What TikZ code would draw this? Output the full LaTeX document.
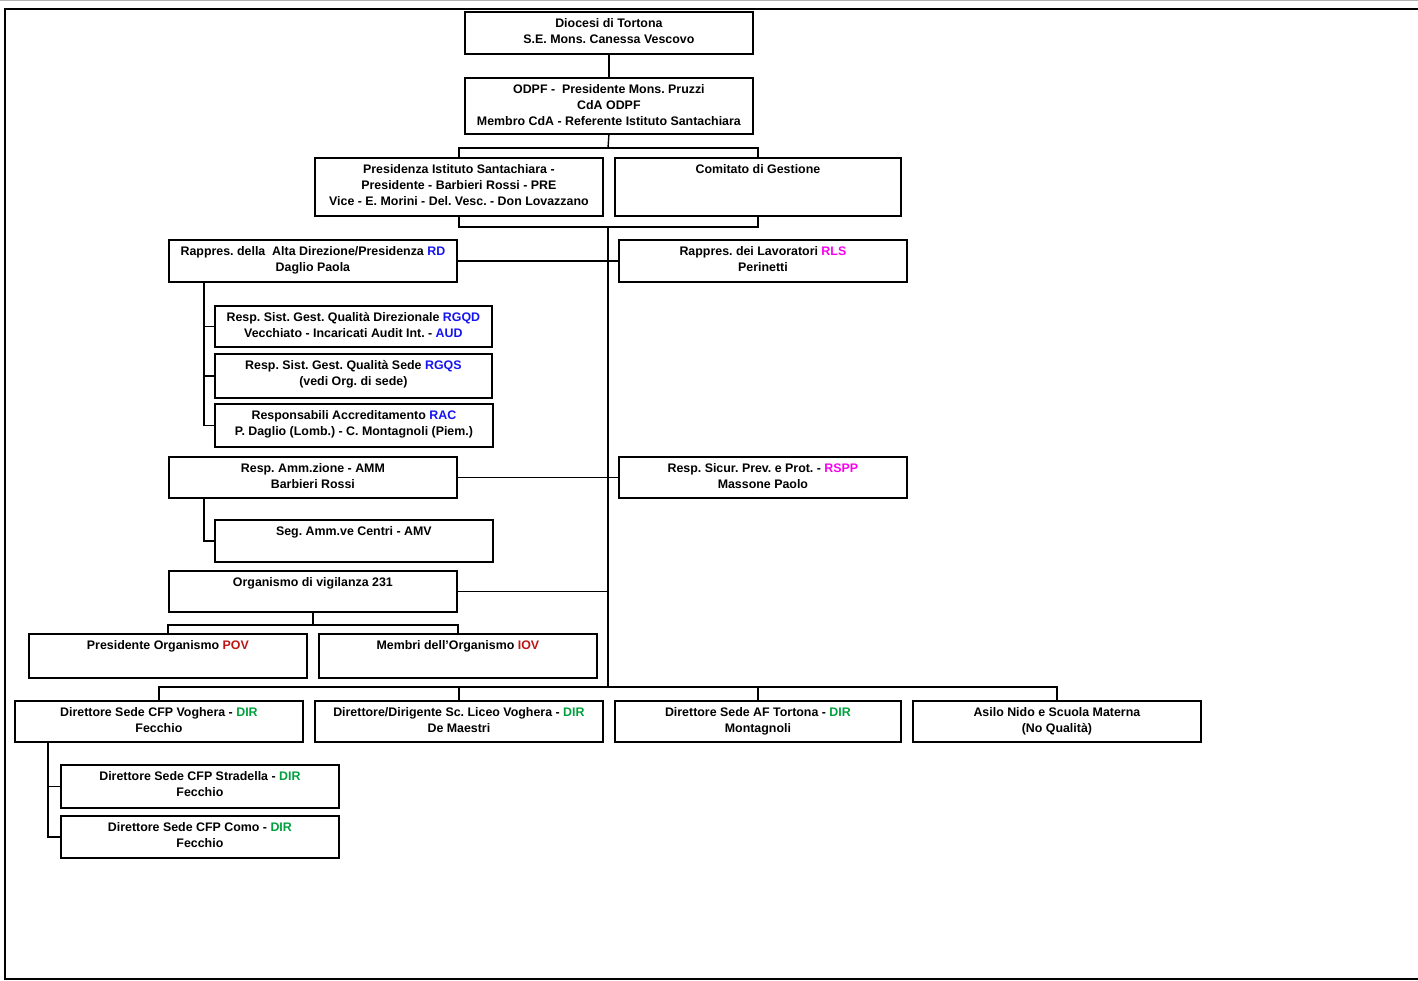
\documentclass[tikz,border=0pt]{standalone}
\usepackage{fontspec}
\setmainfont{Liberation Sans}
\frenchspacing
\definecolor{rdblue}{RGB}{20,20,240}
\definecolor{rlsmag}{RGB}{250,0,240}
\definecolor{povred}{RGB}{190,20,20}
\definecolor{dirgreen}{RGB}{0,160,60}
\tikzset{
  box/.style={draw, line width=1.8pt, anchor=north west, inner sep=0pt,
    minimum width=288, minimum height=42},
  boxtext/.style={anchor=north, align=center, inner sep=0pt, yshift=-7pt,
    font=\fontsize{12.4}{16}\selectfont\bfseries},
  link/.style={line width=1.4pt},
}
\newcommand{\rd}[1]{\textcolor{rdblue}{#1}}
\newcommand{\rl}[1]{\textcolor{rlsmag}{#1}}
\newcommand{\rv}[1]{\textcolor{povred}{#1}}
\newcommand{\dr}[1]{\textcolor{dirgreen}{#1}}
\begin{document}
\begin{tikzpicture}[x=1pt, y=-1pt]
    \useasboundingbox (0,0) rectangle (1418,981);
    % page frame
    \draw[gray!60, line width=1pt] (0,1) -- (1418,1);
    \draw[line width=2.4pt] (1418,9) -- (5,9) -- (5,979) -- (1418,979);

    % top of the chart
    \node[box, label={[boxtext]north:{Diocesi di Tortona\\S.E. Mons. Canessa Vescovo}}] (dioc) at (464,11) {};
    \node[box, minimum height=56, label={[boxtext]north:{ODPF -\ \ Presidente Mons. Pruzzi\\CdA ODPF\\Membro CdA - Referente Istituto Santachiara}}] (odpf) at (464,77) {};
    \node[box, minimum height=58, label={[boxtext]north:{Presidenza Istituto Santachiara -\\Presidente - Barbieri Rossi - PRE\\Vice - E. Morini - Del. Vesc. - Don Lovazzano}}] (pres) at (314,157) {};
    \node[box, minimum width=286, minimum height=58, label={[boxtext]north:{Comitato di Gestione}}] (com) at (614,157) {};

    % staff on the left and right
    \node[box, label={[boxtext]north:{Rappres. della\ \ Alta Direzione/Presidenza \rd{RD}\\Daglio Paola}}] (rdir) at (168,239) {};
    \node[box, label={[boxtext]north:{Rappres. dei Lavoratori \rl{RLS}\\Perinetti}}] (rls) at (618,239) {};
    \node[box, minimum width=277, minimum height=41, label={[boxtext]north:{Resp. Sist. Gest. Qualità Direzionale \rd{RGQD}\\Vecchiato - Incaricati Audit Int. - \rd{AUD}}}] (rgqd) at (214,305) {};
    \node[box, minimum width=277, minimum height=44, label={[boxtext]north:{Resp. Sist. Gest. Qualità Sede \rd{RGQS}\\(vedi Org. di sede)}}] (rgqs) at (214,353) {};
    \node[box, minimum width=278, minimum height=43, label={[boxtext]north:{Responsabili Accreditamento \rd{RAC}\\P. Daglio (Lomb.) - C. Montagnoli (Piem.)}}] (rac) at (214,403) {};
    \node[box, minimum height=41, label={[boxtext]north:{Resp. Amm.zione - AMM\\Barbieri Rossi}}] (amm) at (168,456) {};
    \node[box, minimum height=41, label={[boxtext]north:{Resp. Sicur. Prev. e Prot. - \rl{RSPP}\\Massone Paolo}}] (rspp) at (618,456) {};
    \node[box, minimum width=278, label={[boxtext]north:{Seg. Amm.ve Centri - AMV}}] (amv) at (214,519) {};
    \node[box, minimum height=41, label={[boxtext]north:{Organismo di vigilanza 231}}] (odv) at (168,570) {};
    \node[box, minimum width=278, minimum height=44, label={[boxtext]north:{Presidente Organismo \rv{POV}}}] (pov) at (28,633) {};
    \node[box, minimum width=278, minimum height=44, label={[boxtext]north:{Membri dell'Organismo \rv{IOV}}}] (iov) at (318,633) {};

    % sedi
    \node[box, minimum height=41, label={[boxtext]north:{Direttore Sede CFP Voghera - \dr{DIR}\\Fecchio}}] (vogh) at (14,700) {};
    \node[box, minimum height=41, label={[boxtext]north:{Direttore/Dirigente Sc. Liceo Voghera - \dr{DIR}\\De Maestri}}] (liceo) at (314,700) {};
    \node[box, minimum width=286, minimum height=41, label={[boxtext]north:{Direttore Sede AF Tortona - \dr{DIR}\\Montagnoli}}] (tort) at (614,700) {};
    \node[box, minimum height=41, label={[boxtext]north:{Asilo Nido e Scuola Materna\\(No Qualità)}}] (asilo) at (912,700) {};
    \node[box, minimum width=278, minimum height=43, label={[boxtext]north:{Direttore Sede CFP Stradella - \dr{DIR}\\Fecchio}}] (strad) at (60,764) {};
    \node[box, minimum width=278, label={[boxtext]north:{Direttore Sede CFP Como - \dr{DIR}\\Fecchio}}] (como) at (60,815) {};

    % connectors
    \coordinate (bus1) at (608,148);
    \coordinate (jtop) at (608,227);
    \coordinate (jbot) at (608,687);
    \draw[link] (dioc.south) -- (odpf.north);
    \draw[link] (odpf.south) -- (bus1);
    \draw[link] (pres.north) |- (bus1) -| (com.north);
    \draw[link] (pres.south) |- (jtop) -| (com.south);
    \draw[link] (jtop) -- (jbot);
    \draw[link] (rdir.east) -- (rls.west);
    \draw[link] (amm.east) -- (rspp.west);
    \draw[link] (odv.east) -- (odv.east -| jtop);
    \draw[link] ([xshift=36pt]rdir.south west) |- (rgqd.west);
    \draw[link] ([xshift=36pt]rdir.south west) |- (rgqs.west);
    \draw[link] ([xshift=36pt]rdir.south west) |- (rac.west);
    \draw[link] ([xshift=36pt]amm.south west) |- (amv.west);
    \draw[link] (odv.south) -- ++(0,12) coordinate (odvbus);
    \draw[link] (pov.north) |- (odvbus) -| (iov.north);
    \draw[link] (vogh.north) |- (jbot) -| (asilo.north);
    \draw[link] (liceo.north) |- (jbot);
    \draw[link] (tort.north) |- (jbot);
    \draw[link] ([xshift=34pt]vogh.south west) |- (strad.west);
    \draw[link] ([xshift=34pt]vogh.south west) |- (como.west);
\end{tikzpicture}
\end{document}
